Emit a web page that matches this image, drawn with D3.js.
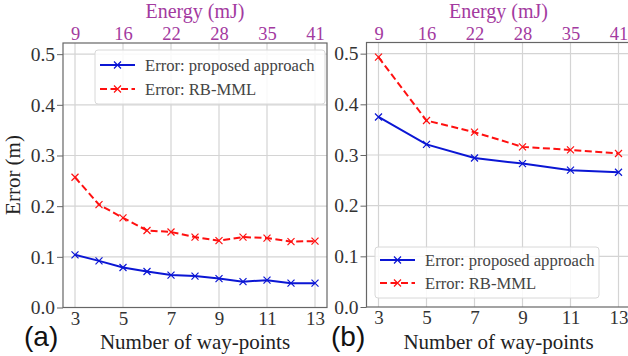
<!DOCTYPE html>
<html><head><meta charset="utf-8">
<script src="https://cdn.jsdelivr.net/npm/d3@7"></script>
<style>body{margin:0;background:#fff}svg{display:block}svg text{font-family:"Liberation Serif",serif}</style>
</head><body>
<script>
// ---- data ----
const waypointsA = [3,4,5,6,7,8,9,10,11,12,13];
const proposedA = [0.104,0.092,0.079,0.071,0.064,0.062,0.057,0.051,0.054,0.048,0.048];
const rbmmlA    = [0.257,0.203,0.177,0.152,0.149,0.139,0.132,0.139,0.137,0.130,0.131];
const waypointsB = [3,5,7,9,11,13];
const proposedB = [0.375,0.321,0.294,0.283,0.270,0.266];
const rbmmlB    = [0.493,0.368,0.345,0.316,0.310,0.303];
const xTicks = [3,5,7,9,11,13];
const energyLabels = ["9","16","22","28","35","41"];
const yTicks = [0.0,0.1,0.2,0.3,0.4,0.5];
const legendLabels = ["Error: proposed approach","Error: RB-MML"];

const W=628,H=356;
const svg=d3.select("body").append("svg").attr("width",W).attr("height",H);
const serif='"Liberation Serif", serif';
const BLUE="#0b16d4", RED="#ff1010", PURPLE="#a33aa0", SPINE="#666", GRID="#d4d4d4";

function txt(sel,size,fill){
  return sel.style("font-family",serif).style("font-size",size+"px").attr("fill",fill);
}

function panel(o){
  const x=d3.scaleLinear().domain([2.5,13.5]).range([o.x0,o.x1]);
  const y=d3.scaleLinear().domain([0,0.522]).range([o.y0,o.y1]);
  const g=svg.append("g");
  g.selectAll(".vg").data(xTicks).join("line")
    .attr("x1",d=>x(d)).attr("x2",d=>x(d)).attr("y1",o.y0).attr("y2",o.y1)
    .attr("stroke",GRID).attr("stroke-width",1.2);
  g.selectAll(".hg").data(yTicks.slice(1)).join("line")
    .attr("x1",o.x0).attr("x2",o.x1).attr("y1",d=>y(d)).attr("y2",d=>y(d))
    .attr("stroke",GRID).attr("stroke-width",1.2);
  g.append("rect").attr("x",o.x0).attr("y",o.y1).attr("width",o.x1-o.x0).attr("height",o.y0-o.y1)
    .attr("fill","none").attr("stroke",SPINE).attr("stroke-width",1.2);
  const ya=d3.axisLeft(y).tickValues(yTicks).tickFormat(d3.format(".1f")).tickSize(6).tickPadding(2);
  const yg=g.append("g").attr("transform",`translate(${o.x0},0)`).call(ya);
  yg.attr("font-family",null).attr("font-size",null);
  yg.select(".domain").remove();
  yg.selectAll("line").attr("stroke",SPINE).attr("stroke-width",1);
  txt(yg.selectAll("text"),19.5,"#333");
  const xa=d3.axisBottom(x).tickValues(xTicks).tickFormat(d3.format("d")).tickSize(0).tickPadding(4);
  const xg=g.append("g").attr("transform",`translate(0,${o.y0})`).call(xa);
  xg.attr("font-family",null).attr("font-size",null);
  xg.select(".domain").remove();
  txt(xg.selectAll("text"),19,"#333");
  const ta=d3.axisTop(x).tickValues(xTicks).tickFormat((d,i)=>energyLabels[i]).tickSize(0).tickPadding(3);
  const tg=g.append("g").attr("transform",`translate(0,${o.y1})`).call(ta);
  tg.attr("font-family",null).attr("font-size",null);
  tg.select(".domain").remove();
  txt(tg.selectAll("text"),18.5,PURPLE);
  txt(g.append("text").attr("x",(o.x0+o.x1)/2).attr("y",18).attr("text-anchor","middle"),20,PURPLE).text("Energy (mJ)");
  txt(g.append("text").attr("x",(o.x0+o.x1)/2).attr("y",349).attr("text-anchor","middle"),21,"#222").text("Number of way-points");
  g.append("text").attr("x",o.labX).attr("y",346).style("font-family",'"Liberation Sans",Arial,sans-serif')
    .style("font-size","28px").attr("fill","#111").text(o.tag);
  const line=d3.line().x(d=>x(d[0])).y(d=>y(d[1]));
  const series=[
    {xs:o.wx,ys:o.red,c:RED,dash:"7,3.5"},
    {xs:o.wx,ys:o.blue,c:BLUE,dash:null}
  ];
  series.forEach(s=>{
    const pts=s.xs.map((v,i)=>[v,s.ys[i]]);
    g.append("path").datum(pts).attr("d",line).attr("fill","none").attr("stroke",s.c)
      .attr("stroke-width",2).attr("stroke-dasharray",s.dash);
    g.selectAll(null).data(pts).join("path")
      .attr("transform",d=>`translate(${x(d[0])},${y(d[1])})`)
      .attr("d","M-3.5,-3.5L3.5,3.5M-3.5,3.5L3.5,-3.5").attr("stroke",s.c).attr("stroke-width",1.2);
  });
  const L=o.leg;
  g.append("rect").attr("x",L.x).attr("y",L.y).attr("width",L.w).attr("height",L.h).attr("rx",3)
    .attr("fill","rgba(255,255,255,0.85)").attr("stroke","#d8d8d8").attr("stroke-width",1);
  const ls=[{c:BLUE,dash:null},{c:RED,dash:"7,3.5"}];
  ls.forEach((s,i)=>{
    const yy=L.y+L.r0+i*L.dr;
    g.append("line").attr("x1",L.x+5).attr("x2",L.x+40).attr("y1",yy).attr("y2",yy)
      .attr("stroke",s.c).attr("stroke-width",2).attr("stroke-dasharray",s.dash);
    g.append("path").attr("transform",`translate(${L.x+22.5},${yy})`)
      .attr("d","M-3.5,-3.5L3.5,3.5M-3.5,3.5L3.5,-3.5").attr("stroke",s.c).attr("stroke-width",1.2);
    txt(g.append("text").attr("x",L.x+50).attr("y",yy+5.5),16.6,"#444").text(legendLabels[i]);
  });
}

panel({x0:63,x1:327,y0:307.5,y1:43,wx:waypointsA,blue:proposedA,red:rbmmlA,tag:"(a)",labX:24,
  leg:{x:95,y:50,w:230,h:54,r0:15,dr:24}});
panel({x0:366.5,x1:630.5,y0:307,y1:42.5,wx:waypointsB,blue:proposedB,red:rbmmlB,tag:"(b)",labX:331,
  leg:{x:375,y:247,w:224,h:51,r0:13,dr:23}});

txt(svg.append("text").attr("transform","translate(20,175) rotate(-90)").attr("text-anchor","middle"),21,"#222").text("Error (m)");
</script>
</body></html>
